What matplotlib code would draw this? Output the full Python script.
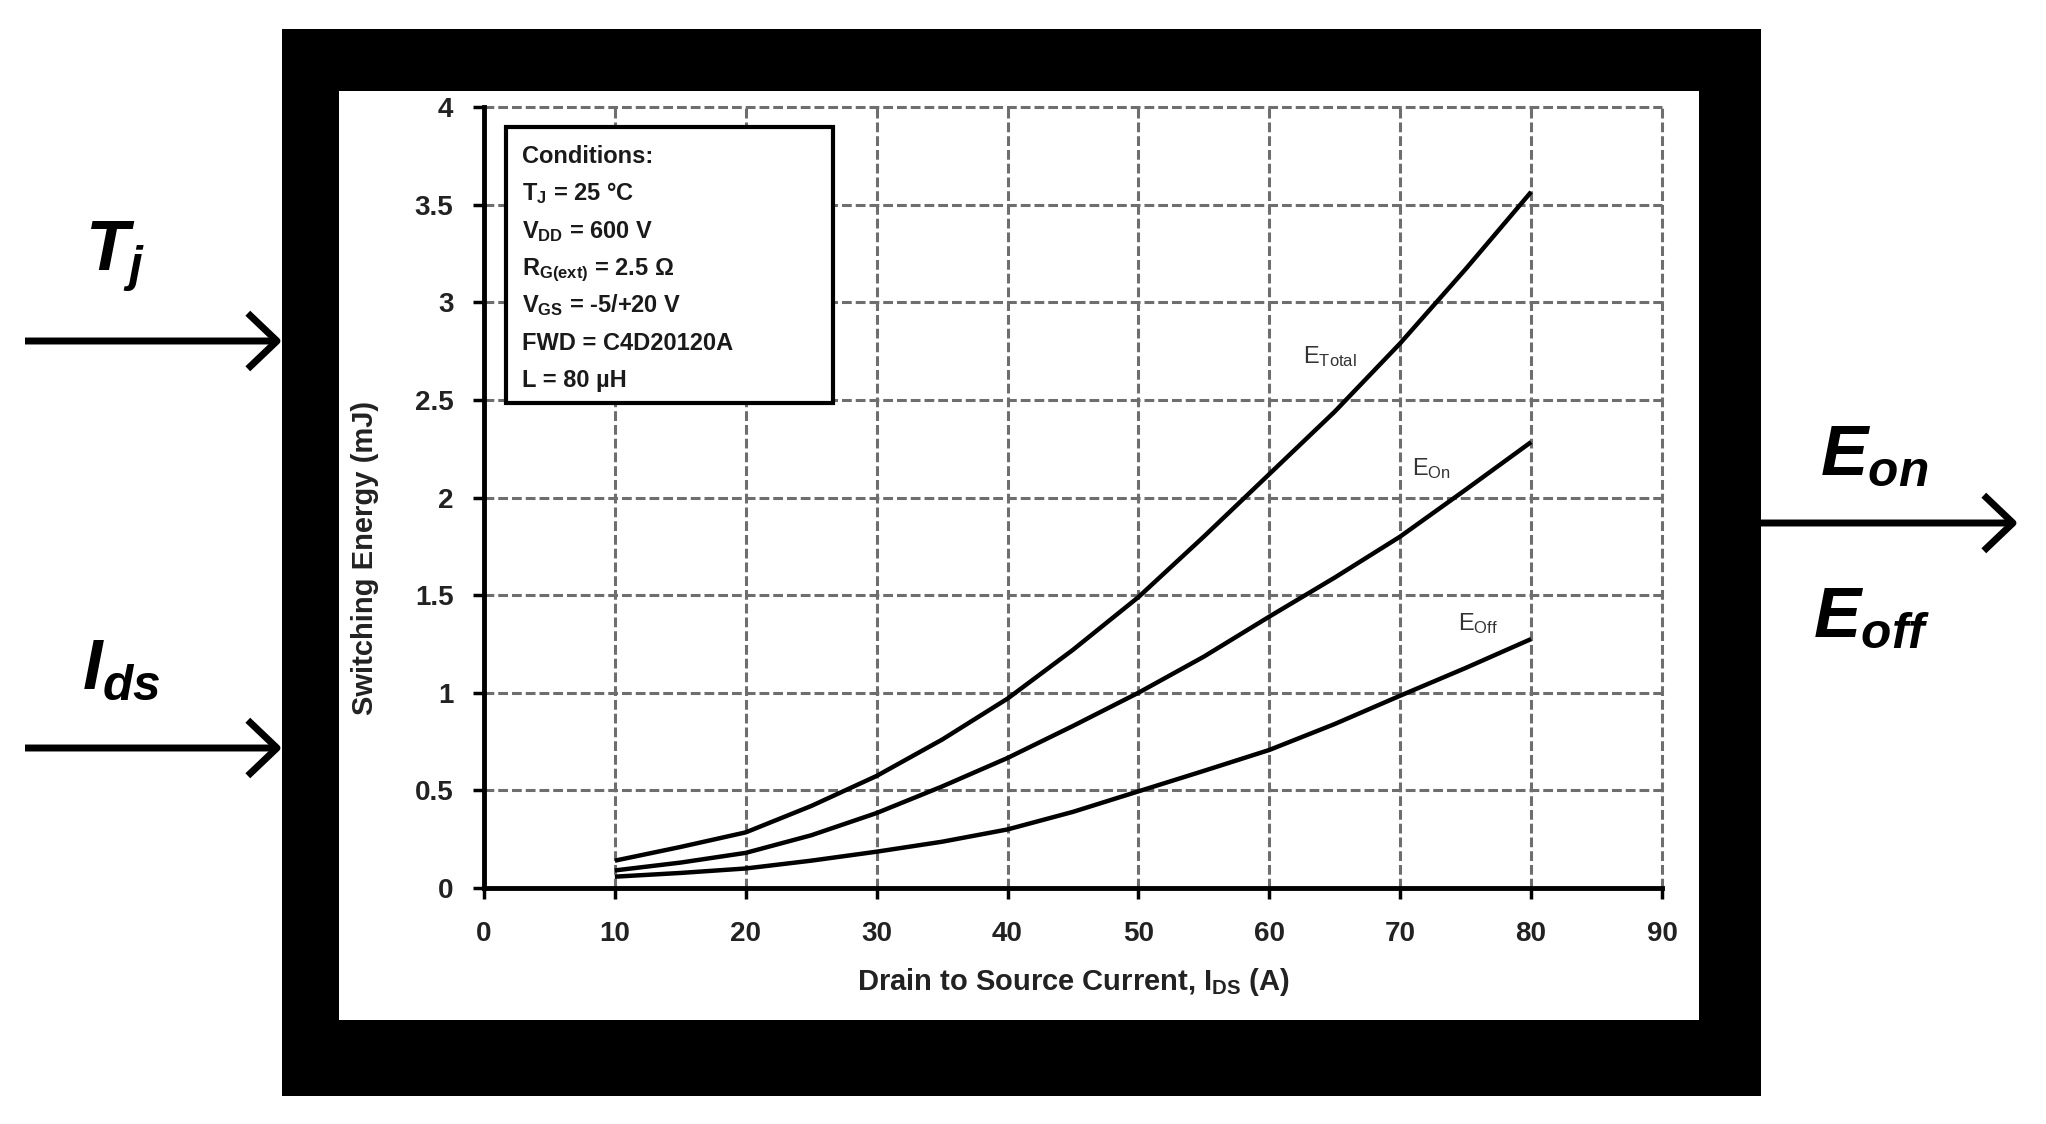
import matplotlib
matplotlib.use("Agg")
import matplotlib.pyplot as plt
from matplotlib.patches import Rectangle, FancyArrowPatch


plt.rcParams["font.family"] = ["Liberation Sans", "DejaVu Sans"]

W, H = 2046, 1124

# values, drain current in A, energy in mJ
CURRENT_A = [10, 15, 20, 25, 30, 35, 40, 45, 50, 55, 60, 65, 70, 75, 80]
E_TOTAL = [0.14, 0.21, 0.285, 0.42, 0.574, 0.76, 0.97, 1.22, 1.49, 1.80,
           2.12, 2.44, 2.79, 3.17, 3.565]
E_ON = [0.09, 0.13, 0.18, 0.27, 0.384, 0.52, 0.666, 0.83, 1.0, 1.185,
        1.39, 1.59, 1.80, 2.04, 2.284]
E_OFF = [0.058, 0.077, 0.10, 0.14, 0.186, 0.237, 0.30, 0.39, 0.495, 0.60,
         0.707, 0.84, 0.985, 1.127, 1.275]

X_TICKS = [0, 10, 20, 30, 40, 50, 60, 70, 80, 90]
Y_TICKS = [0, 0.5, 1, 1.5, 2, 2.5, 3, 3.5, 4]
Y_TICK_LABELS = ["0", "0.5", "1", "1.5", "2", "2.5", "3", "3.5", "4"]

CONDITIONS = [
    "Conditions:",
    r"$\mathregular{T_J}$ = 25 °C",
    r"$\mathregular{V_{DD}}$ = 600 V",
    r"$\mathregular{R_{G(ext)}}$ = 2.5 Ω",
    r"$\mathregular{V_{GS}}$ = -5/+20 V",
    "FWD = C4D20120A",
    "L = 80 µH",
]

CURVE_LABELS = [
    (r"$\mathregular{E_{Total}}$", 62.6, 2.69),
    (r"$\mathregular{E_{On}}$", 70.9, 2.115),
    (r"$\mathregular{E_{Off}}$", 74.4, 1.32),
]


def fx(x):
    return x / W


def fy(y):
    return 1 - y / H


fig = plt.figure(figsize=(W / 100, H / 100), dpi=100)
fig.patch.set_facecolor("white")

# --- thick black frame around the chart (the "block")
fig.add_artist(Rectangle((fx(282), fy(1096)), fx(1761) - fx(282), fy(29) - fy(1096),
                         transform=fig.transFigure, facecolor="black",
                         edgecolor="none", zorder=-2))
fig.add_artist(Rectangle((fx(339), fy(1020)), fx(1699) - fx(339), fy(91) - fy(1020),
                         transform=fig.transFigure, facecolor="white",
                         edgecolor="none", zorder=-1))

# --- input / output arrows
for (x0, y0, x1, y1) in [(25, 341, 282, 341), (25, 748, 282, 748), (1761, 523, 2018, 523)]:
    fig.add_artist(FancyArrowPatch((fx(x0), fy(y0)), (fx(x1), fy(y1)),
                                   transform=fig.transFigure,
                                   arrowstyle="->,head_length=21,head_width=20",
                                   mutation_scale=1, lw=5, color="black",
                                   shrinkA=0, shrinkB=0, capstyle="butt"))

big = dict(fontsize=51, fontweight="bold", fontstyle="italic", color="black",
           va="baseline", ha="left")
fig.text(fx(85), fy(270), r"$\mathregular{T_j}$", **big)
fig.text(fx(82), fy(689), r"$\mathregular{I_{ds}}$", **big)
fig.text(fx(1820), fy(475), r"$\mathregular{E_{on}}$", **big)
fig.text(fx(1813), fy(637), r"$\mathregular{E_{off}}$", **big)

# --- the switching energy chart
ax = fig.add_axes([fx(484), fy(888), fx(1662) - fx(484), fy(107) - fy(888)])
ax.set_facecolor("white")

for values in [E_TOTAL, E_ON, E_OFF]:
    ax.plot(CURRENT_A, values, color="black", lw=3.2, zorder=3,
            solid_capstyle="butt", solid_joinstyle="round")

for label, x, y in CURVE_LABELS:
    ax.text(x, y, label, fontsize=17, color="#333333", va="baseline", ha="left",
            zorder=4)

ax.set_xlim(0, 90)
ax.set_ylim(0, 4)
ax.set_xticks(X_TICKS)
ax.set_yticks(Y_TICKS)
ax.set_yticklabels(Y_TICK_LABELS)

ax.grid(True, color="#6e6e6e", lw=2.2, linestyle=(0, (3.2, 1.3)), clip_on=False,
        zorder=1)
ax.set_axisbelow(True)

for side in ["top", "right"]:
    ax.spines[side].set_visible(False)
for side in ["left", "bottom"]:
    ax.spines[side].set_linewidth(3.5)
    ax.spines[side].set_color("black")
    ax.spines[side].set_zorder(5)

ax.tick_params(direction="out", length=8, width=2.5, colors="black",
               labelcolor="#222222", labelsize=20, pad=14)
ax.tick_params(axis="x", pad=16)
for lab in ax.get_xticklabels() + ax.get_yticklabels():
    lab.set_fontweight("bold")

ax.set_xlabel(r"Drain to Source Current, $\mathregular{I_{DS}}$ (A)",
              fontsize=21, fontweight="bold", color="#222222")
ax.xaxis.set_label_coords(0.5, -0.100)
ax.set_ylabel("Switching Energy (mJ)", fontsize=21, fontweight="bold",
              color="#222222")
ax.yaxis.set_label_coords(-0.101, 0.4225)
ax.yaxis.label.set_verticalalignment("center")

# --- conditions box
ax.add_patch(Rectangle((0.0187, 0.621), 0.2963 - 0.0187, 0.9744 - 0.621,
                       transform=ax.transAxes, facecolor="white",
                       edgecolor="black", lw=3, zorder=6))
baselines = [163, 200, 238, 275, 312, 350, 387]
for text, base in zip(CONDITIONS, baselines):
    ax.text((522 - 484) / 1178, (888 - base) / 781, text, transform=ax.transAxes,
            fontsize=17, fontweight="bold", color="#1a1a1a", va="baseline",
            ha="left", zorder=7)

fig.savefig("out.png", dpi=100, facecolor="white")
